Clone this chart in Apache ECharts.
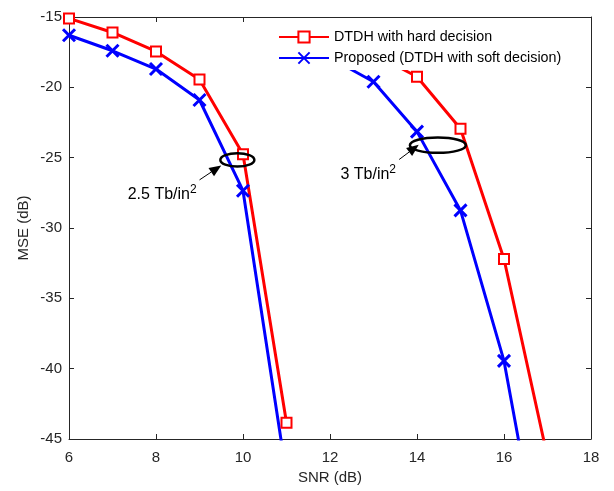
<!DOCTYPE html>
<html>
<head>
<meta charset="utf-8">
<script src="https://cdn.jsdelivr.net/npm/echarts@6/dist/echarts.min.js"></script>
<style>
  html, body { margin: 0; padding: 0; background: #fff; }
  #chart { width: 614px; height: 491px; }
</style>
</head>
<body>
<div id="chart"></div>
<script>
// SNR (dB) sample points and MSE (dB) results for the two areal densities
const snrLow = [6, 7, 8, 9, 10, 11];
const hardLow = [-15.1, -16.1, -17.45, -19.45, -24.75, -43.85];
const softLow = [-16.3, -17.4, -18.7, -20.9, -27.35, -47.6];

const snrHighHard = [13, 14, 15, 16, 17];
const hardHigh = [-17.6, -19.25, -22.95, -32.2, -46.3];
const snrHighSoft = [12, 13, 14, 15, 16, 17];
const softHigh = [-17.9, -19.6, -23.15, -28.75, -39.45, -56.3];

// Axis ticks
const xTicks = [6, 8, 10, 12, 14, 16, 18];
const yTicks = [-45, -40, -35, -30, -25, -20, -15];

// Series / legend names and density labels
const seriesNames = ['DTDH with hard decision', 'Proposed (DTDH with soft decision)'];
const densityLabels = ['2.5 Tb/in', '3 Tb/in'];

const FONT = '"Liberation Sans", Arial, Helvetica, sans-serif';
const AXIS_COLOR = '#262626';
const RED = '#ff0000';
const BLUE = '#0000ff';
const CROSS = 'path://M0,0L10,10M10,0L0,10';

const zip = (xs, ys) => xs.map((x, i) => [x, ys[i]]);

const chart = echarts.init(document.getElementById('chart'), null, { renderer: 'canvas' });

function axisBase(ticks) {
  return {
    type: 'value',
    min: ticks[0],
    max: ticks[ticks.length - 1],
    interval: ticks[1] - ticks[0],
    splitLine: { show: false },
    axisLine: { show: true, onZero: false, lineStyle: { color: AXIS_COLOR, width: 1 } },
    axisTick: { show: true, inside: true, length: 5, lineStyle: { color: AXIS_COLOR, width: 1 } }
  };
}

function hardSeries(data) {
  return {
    name: seriesNames[0], type: 'line', data: data,
    symbol: 'emptyRect', symbolSize: 10, showAllSymbol: true,
    lineStyle: { color: RED, width: 3 },
    itemStyle: { color: RED, borderColor: RED, borderWidth: 2 },
    emphasis: { disabled: true }, z: 3
  };
}
function softSeries(data) {
  return {
    name: seriesNames[1], type: 'line', data: data,
    symbol: CROSS, symbolSize: 12, showAllSymbol: true,
    lineStyle: { color: BLUE, width: 3 },
    itemStyle: { color: BLUE, borderColor: BLUE, borderWidth: 3 },
    emphasis: { disabled: true }, z: 3
  };
}

const option = {
  animation: false,
  backgroundColor: '#fff',
  textStyle: { fontFamily: FONT },
  grid: { left: 69, right: 23, top: 17, bottom: 52, containLabel: false },
  legend: {
    data: seriesNames,
    orient: 'vertical',
    left: 274, top: 18,
    padding: [12, 8, 5, 4],
    itemWidth: 50, itemHeight: 14, itemGap: 7,
    backgroundColor: '#fff',
    textStyle: { fontFamily: FONT, fontSize: 14.3, color: '#000' },
    selectedMode: false
  },
  xAxis: [
    Object.assign(axisBase(xTicks), {
      position: 'bottom',
      name: 'SNR (dB)', nameLocation: 'middle', nameGap: 29,
      nameTextStyle: { fontFamily: FONT, fontSize: 15, color: AXIS_COLOR },
      axisLabel: { margin: 11, fontFamily: FONT, fontSize: 15, color: AXIS_COLOR }
    }),
    Object.assign(axisBase(xTicks), { position: 'top', axisLabel: { show: false } })
  ],
  yAxis: [
    Object.assign(axisBase(yTicks), {
      position: 'left',
      name: 'MSE (dB)', nameLocation: 'middle', nameGap: 38, nameRotate: 90,
      nameMoveOverlap: false,
      nameTextStyle: { fontFamily: FONT, fontSize: 15, color: AXIS_COLOR },
      axisLabel: { margin: 7, fontFamily: FONT, fontSize: 15, color: AXIS_COLOR }
    }),
    Object.assign(axisBase(yTicks), { position: 'right', axisLabel: { show: false } })
  ],
  series: [
    hardSeries(zip(snrLow, hardLow)),
    softSeries(zip(snrLow, softLow)),
    hardSeries(zip(snrHighHard, hardHigh)),
    softSeries(zip(snrHighSoft, softHigh))
  ]
};

chart.setOption(option);

// Density annotations: ellipse around the curve pair, arrow and label (data coordinates)
const notes = [
  { label: densityLabels[0], ellipse: [9.87, -25.16], rx: 17, ry: 6.7,
    arrowFrom: [9.0, -26.58], arrowTo: [9.5, -25.55], text: [7.35, -27.65] },
  { label: densityLabels[1], ellipse: [14.48, -24.11], rx: 28, ry: 7.7,
    arrowFrom: [13.59, -25.13], arrowTo: [14.04, -24.09], text: [12.24, -26.22] }
];

const px = (p) => chart.convertToPixel({ gridIndex: 0 }, p);
const graphics = [];
notes.forEach((n) => {
  const c = px(n.ellipse);
  graphics.push({
    type: 'ellipse', z: 10,
    shape: { cx: c[0], cy: c[1], rx: n.rx, ry: n.ry },
    style: { fill: null, stroke: '#000', lineWidth: 2.5 }
  });
  const a = px(n.arrowFrom), b = px(n.arrowTo);
  const dx = b[0] - a[0], dy = b[1] - a[1];
  const len = Math.hypot(dx, dy), ux = dx / len, uy = dy / len;
  const headLen = 12, headHalf = 5;
  const base = [b[0] - ux * headLen, b[1] - uy * headLen];
  graphics.push({
    type: 'line', z: 10,
    shape: { x1: a[0], y1: a[1], x2: base[0], y2: base[1] },
    style: { stroke: '#000', lineWidth: 1 }
  });
  graphics.push({
    type: 'polygon', z: 10,
    shape: { points: [b, [base[0] - uy * headHalf, base[1] + ux * headHalf], [base[0] + uy * headHalf, base[1] - ux * headHalf]] },
    style: { fill: '#000' }
  });
  const t = px(n.text);
  graphics.push({
    type: 'text', z: 10, x: t[0], y: t[1],
    style: {
      text: '{b|' + n.label + '}{s|2}',
      verticalAlign: 'middle', align: 'left',
      rich: {
        b: { fontFamily: FONT, fontSize: 16, lineHeight: 22, fill: '#000' },
        s: { fontFamily: FONT, fontSize: 12, lineHeight: 12, verticalAlign: 'top', fill: '#000' }
      }
    }
  });
});
chart.setOption({ graphic: graphics });
</script>
</body>
</html>
